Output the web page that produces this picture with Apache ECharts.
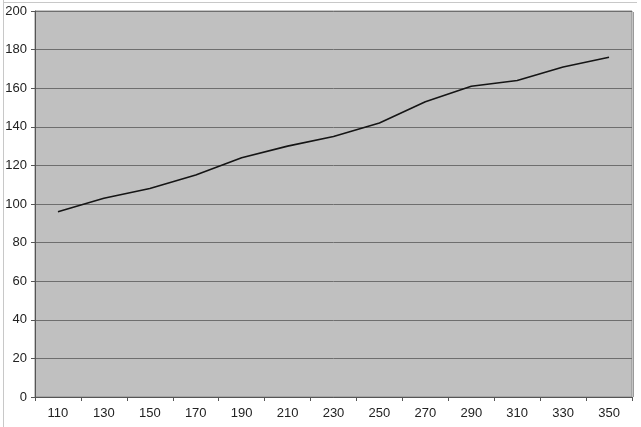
<!DOCTYPE html>
<html><head><meta charset="utf-8">
<script src="https://cdn.jsdelivr.net/npm/echarts@6/dist/echarts.min.js"></script>
<style>html,body{margin:0;padding:0;background:#fff;}#c{width:641px;height:427px;}</style>
</head><body><div id="c"></div>
<script>
var categories = ['110','130','150','170','190','210','230','250','270','290','310','330','350'];
var values = [96,103,108,115,124,130,135,142,153,161,164,171,176];
var yMin = 0, yMax = 200, yStep = 20;

var chart = echarts.init(document.getElementById('c'), null, {renderer:'canvas'});
chart.setOption({
  animation:false,
  backgroundColor:'#fff',
  graphic:[
    {type:'line', shape:{x1:3.5,y1:0,x2:3.5,y2:427}, style:{stroke:'#c8c8c8',lineWidth:1}},
    {type:'line', shape:{x1:3,y1:2.5,x2:637,y2:2.5}, style:{stroke:'#c8c8c8',lineWidth:1}},
    {type:'line', shape:{x1:633.5,y1:12,x2:633.5,y2:397}, style:{stroke:'#9a9a9a',lineWidth:1}}
  ],
  grid:{left:35,right:9,top:11,bottom:30,show:true,backgroundColor:'#c0c0c0',borderColor:'#8a8a8a',borderWidth:1},
  xAxis:{
    type:'category', data:categories, boundaryGap:true,
    axisLine:{lineStyle:{color:'#555',width:1}},
    axisTick:{show:true,length:4,lineStyle:{color:'#555'}},
    axisLabel:{color:'#222',fontFamily:'Liberation Sans, Arial, sans-serif',fontSize:13,margin:10,interval:0},
    splitLine:{show:false}
  },
  yAxis:{
    type:'value', min:yMin, max:yMax, interval:yStep,
    axisLine:{show:true,lineStyle:{color:'#555',width:1}},
    axisTick:{show:true,length:4,lineStyle:{color:'#555'}},
    axisLabel:{color:'#222',fontFamily:'Liberation Sans, Arial, sans-serif',fontSize:13,margin:8},
    splitLine:{show:true,lineStyle:{color:'#6e6e6e',width:1}}
  },
  series:[{type:'line',data:values,symbol:'none',lineStyle:{color:'#151515',width:1.6}}]
});
</script></body></html>
